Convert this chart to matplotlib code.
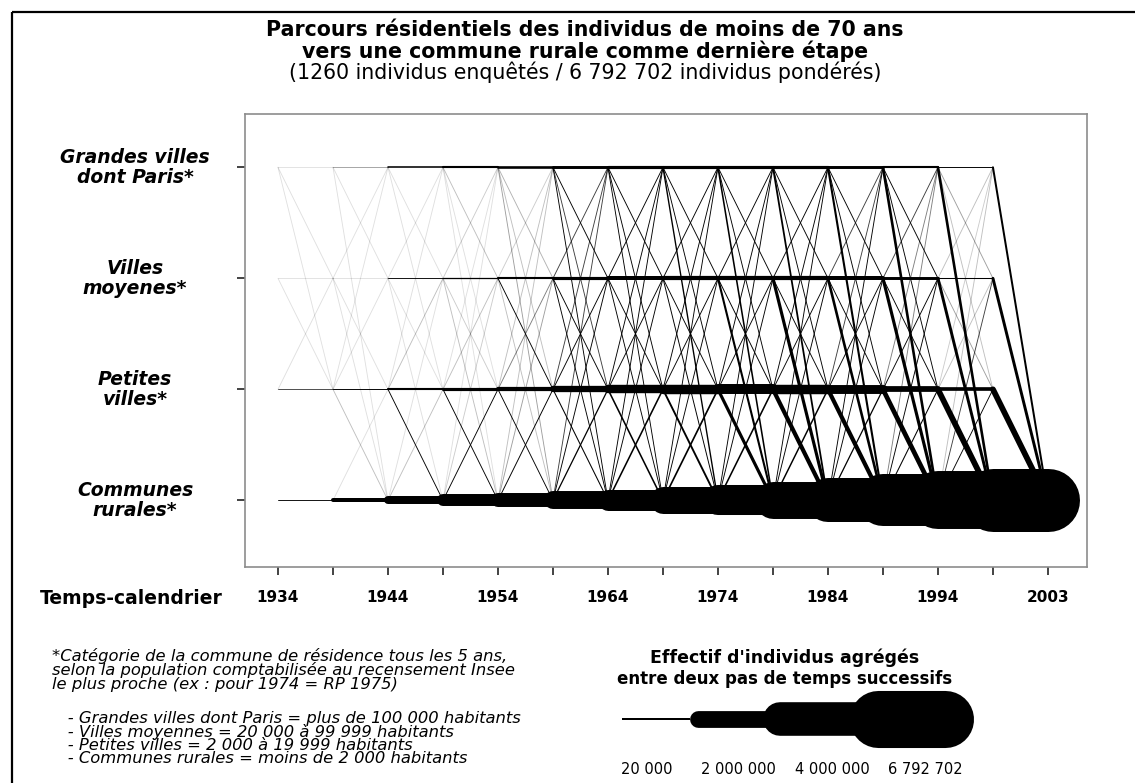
import numpy as np
import matplotlib
matplotlib.use("Agg")
import matplotlib.pyplot as plt
from matplotlib.transforms import blended_transform_factory
from matplotlib.patches import Rectangle

# time steps (every 5 years, last one 2003)
years = [1934, 1939, 1944, 1949, 1954, 1959, 1964, 1969, 1974, 1979, 1984, 1989, 1994, 1999, 2003]
year_labels = ["1934", "1944", "1954", "1964", "1974", "1984", "1994", "2003"]

# categories, bottom to top
cat_labels = ["Communes\nrurales*", "Petites\nvilles*", "Villes\nmoyenes*", "Grandes villes\ndont Paris*"]

# weighted flows (thousands) between two successive steps
# each row = one transition, columns = destination [G, M, P, R]
from_G = [
    [3, 5, 3, 0], [15, 5, 0, 5], [150, 5, 5, 0], [200, 10, 5, 5],
    [250, 12, 10, 15], [280, 40, 30, 40], [300, 60, 50, 60], [300, 80, 60, 130],
    [300, 70, 60, 150], [300, 70, 60, 170], [280, 60, 60, 200], [200, 50, 40, 250],
    [90, 15, 10, 250], [0, 0, 0, 190],
]
from_M = [
    [0, 4, 4, 0], [3, 5, 5, 5], [5, 60, 5, 5], [8, 120, 8, 10],
    [8, 200, 60, 10], [30, 300, 40, 50], [50, 380, 70, 70], [60, 400, 80, 90],
    [50, 400, 90, 200], [40, 400, 80, 300], [30, 380, 70, 250], [30, 280, 50, 300],
    [10, 100, 15, 280], [0, 0, 0, 280],
]
from_P = [
    [0, 5, 30, 0], [3, 5, 90, 10], [5, 10, 200, 40], [5, 10, 300, 50],
    [10, 20, 400, 70], [30, 40, 600, 100], [40, 60, 800, 150], [50, 70, 900, 180],
    [50, 80, 950, 300], [40, 60, 900, 400], [30, 50, 850, 400], [20, 50, 550, 450],
    [8, 10, 350, 550], [0, 0, 0, 550],
]
from_R = [
    [0, 0, 0, 40], [0, 0, 5, 380], [0, 5, 10, 760], [5, 8, 45, 1140],
    [10, 15, 90, 1330], [30, 50, 120, 1710], [40, 60, 150, 2000], [50, 70, 160, 2570],
    [60, 80, 150, 2860], [50, 70, 140, 3520], [50, 60, 120, 4190], [20, 40, 100, 4950],
    [10, 30, 50, 5520], [0, 0, 0, 6000],
]

# legend
legend_values = [20000, 2000000, 4000000, 6792702]
legend_labels = ["20 000", "2 000 000", "4 000 000", "6 792 702"]

W, H = 1135, 783
fig = plt.figure(figsize=(W / 100, H / 100), dpi=100)
PX = 72 / 100  # pixel -> points


def lw_main(w):
    return max(0.9, w * 0.0105) * PX


def alpha_of(w):
    return float(np.clip(w / 40.0, 0.12, 1.0))


ax = fig.add_axes([245 / W, 1 - 567 / H, (1087 - 245) / W, (567 - 114) / H])
ax.set_xlim(-0.6, 14.71)
ax.set_ylim(-0.6, 3.48)

levels = {"G": 3, "M": 2, "P": 1, "R": 0}
dest = [3, 2, 1, 0]
edges = []
for src, table in [("G", from_G), ("M", from_M), ("P", from_P), ("R", from_R)]:
    for t, row in enumerate(table):
        for j, w in enumerate(row):
            if w > 0:
                edges.append((w, t, levels[src], dest[j]))
edges.sort(key=lambda e: e[0])
for w, t, y0, y1 in edges:
    ax.plot([t, t + 1], [y0, y1], color="black", lw=lw_main(w), alpha=alpha_of(w),
            solid_capstyle="round")

for s in ax.spines.values():
    s.set_color("#8c8c8c")
    s.set_linewidth(1.2)
ax.set_xticks(range(len(years)))
ax.set_xticklabels([])
ax.set_yticks(range(4))
ax.set_yticklabels([])
ax.tick_params(direction="out", length=6, width=1.2, color="#222222")

# year labels (every other time step)
trx = blended_transform_factory(ax.transData, fig.transFigure)
for i, lab in zip(range(0, len(years), 2), year_labels):
    ax.text(i, 1 - 598 / H, lab, transform=trx, fontsize=11, fontweight="bold",
            ha="center", va="center")
fig.text(131 / W, 1 - 598 / H, "Temps-calendrier", fontsize=13.5, fontweight="bold",
         ha="center", va="center")

# category labels
tr = blended_transform_factory(fig.transFigure, ax.transData)
for lvl, lab in enumerate(cat_labels):
    ax.text(135 / W, lvl, lab, transform=tr, fontsize=13.5, fontweight="bold", style="italic",
            ha="center", va="center", multialignment="center", linespacing=1.1)

# title
fig.text(585 / W, 1 - 30 / H, "Parcours résidentiels des individus de moins de 70 ans",
         fontsize=14.8, fontweight="bold", ha="center", va="center")
fig.text(585 / W, 1 - 51 / H, "vers une commune rurale comme dernière étape",
         fontsize=14.8, fontweight="bold", ha="center", va="center")
fig.text(585 / W, 1 - 72 / H, "(1260 individus enquêtés / 6 792 702 individus pondérés)",
         fontsize=14.8, ha="center", va="center")

# footnote
note_head = ("*Catégorie de la commune de résidence tous les 5 ans,\n"
             "selon la population comptabilisée au recensement Insee\n"
             "le plus proche (ex : pour 1974 = RP 1975)")
note_list = ("   - Grandes villes dont Paris = plus de 100 000 habitants\n"
             "   - Villes moyennes = 20 000 à 99 999 habitants\n"
             "   - Petites villes = 2 000 à 19 999 habitants\n"
             "   - Communes rurales = moins de 2 000 habitants")
fig.text(52 / W, 1 - 648 / H, note_head, fontsize=11.8, style="italic", ha="left",
         va="top", linespacing=0.88)
fig.text(52 / W, 1 - 711 / H, note_list, fontsize=11.8, style="italic", ha="left",
         va="top", linespacing=0.83)

# legend
fig.text(785 / W, 1 - 658 / H, "Effectif d'individus agrégés", fontsize=12.5,
         fontweight="bold", ha="center", va="center")
fig.text(785 / W, 1 - 679 / H, "entre deux pas de temps successifs", fontsize=12,
         fontweight="bold", ha="center", va="center")
lax = fig.add_axes([0, 0, 1, 1])
lax.set_xlim(0, W)
lax.set_ylim(H, 0)
lax.axis("off")
seg_start = [622, 698, 780, 878]
seg_end = [690, 775, 870, 945]
label_x = [647, 738, 832, 925]
for v, a, b, lx, lab in zip(legend_values, seg_start, seg_end, label_x, legend_labels):
    px = max(2.0, v / 1e6 * 8.4)
    lax.plot([a, b], [719, 719], color="black", lw=px * PX,
             solid_capstyle="round" if px > 3 else "butt")
    lax.text(lx, 770, lab, fontsize=10.5, ha="center", va="center")

# outer frame
lax.add_patch(Rectangle((12, 12), W, H, fill=False, edgecolor="black", lw=1.6))

fig.savefig("out.png", dpi=100)
